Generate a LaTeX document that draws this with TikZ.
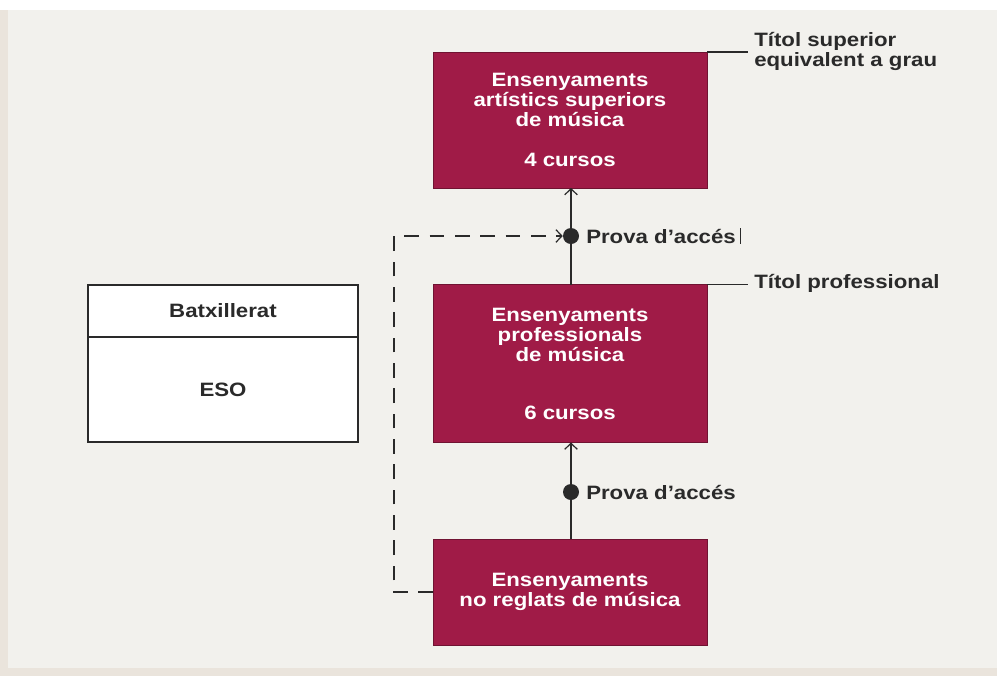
\documentclass[tikz,border=0pt]{standalone}
\usepackage{fontspec}
\newfontfamily\lblfont[FakeStretch=1.15]{Liberation Sans}
\usetikzlibrary{arrows.meta}
\definecolor{panel}{HTML}{F2F1ED}
\definecolor{edge}{HTML}{EAE4DC}
\definecolor{maroon}{HTML}{A01B47}
\definecolor{ink}{HTML}{2A2A2A}
\tikzset{
  redbox/.style={draw=maroon!70!black, line width=0.6pt, fill=maroon, text=white,
    minimum width=205.5pt, align=center, inner sep=0pt, outer sep=0pt,
    font=\lblfont\bfseries\fontsize{14.5}{15}\selectfont},
  whitebox/.style={draw=ink, line width=1.1pt, fill=white, text=ink,
    minimum width=202.5pt, align=center, inner sep=0pt, outer sep=0pt,
    font=\lblfont\bfseries\fontsize{14.5}{15}\selectfont},
  label/.style={text=ink, align=left, anchor=west, inner xsep=4.5pt, inner ysep=0pt,
    font=\lblfont\bfseries\fontsize{14.5}{15}\selectfont},
  conn/.style={draw=ink, line width=1.1pt},
  tip/.style={-{Straight Barb[length=4.5pt,width=9.5pt,line width=0.9pt]}},
  dashline/.style={draw=ink, line width=1.1pt, dash pattern=on 11pt off 8pt},
  dot/.style={circle, fill=ink, draw=none, minimum size=12pt, inner sep=0pt}
}
\begin{document}
\begin{tikzpicture}[x=0.75pt,y=-0.75pt]
\useasboundingbox (0,0) rectangle (997,676);
% background
\fill[edge] (0,0) rectangle (997,676);
\fill[white] (0,0) rectangle (997,10);
\fill[panel] (8,10) rectangle (997,668);

% left boxes
\node[whitebox, minimum height=39pt] (batx) at (223,311) {Batxillerat};
\node[whitebox, minimum height=78.75pt] (eso) at (223,389.5) {ESO};

% red boxes
\node[redbox, minimum height=102pt] (sup) at (570,120)
  {Ensenyaments\\artístics superiors\\de música\\[15pt]4 cursos};
\node[redbox, minimum height=118.5pt] (pro) at (570,363.5)
  {Ensenyaments\\professionals\\de música\\[28.5pt]6 cursos};
\node[redbox, minimum height=79.5pt] (nor) at (570,592)
  {Ensenyaments\\no reglats de música};

% dots
\node[dot] (d1) at (571,236) {};
\node[dot] (d2) at (571,492) {};

% labels
\node[label] (p1) at (580,236) {Prova d’accés};
\node[label] (p2) at (580,492) {Prova d’accés};
\node[label] (tsup) at (748,51) {Títol superior\\equivalent a grau};
\node[label] (tpro) at (748,283) {Títol professional};

% cursor mark after label
\draw[ink, line width=0.9pt] ([xshift=-1pt]p1.east) ++(0,-8) -- ++(0,16);

% connectors
\draw[conn] (pro.north -| d1) -- (d1.center);
\draw[conn, tip] (d1.center) -- (sup.south -| d1);
\draw[conn] (nor.north -| d2) -- (d2.center);
\draw[conn, tip] (d2.center) -- (pro.south -| d2);
\coordinate (c1) at (394,592);
\coordinate (c2) at (394,236);
\draw[dashline, tip] (nor.west) -- (c1) -- (c2) -- (d1.west);
\draw[conn] (sup.north east) -- (tsup.west |- sup.north east);
\draw[conn] (pro.north east) -- (tpro.west |- pro.north east);
\end{tikzpicture}
\end{document}
